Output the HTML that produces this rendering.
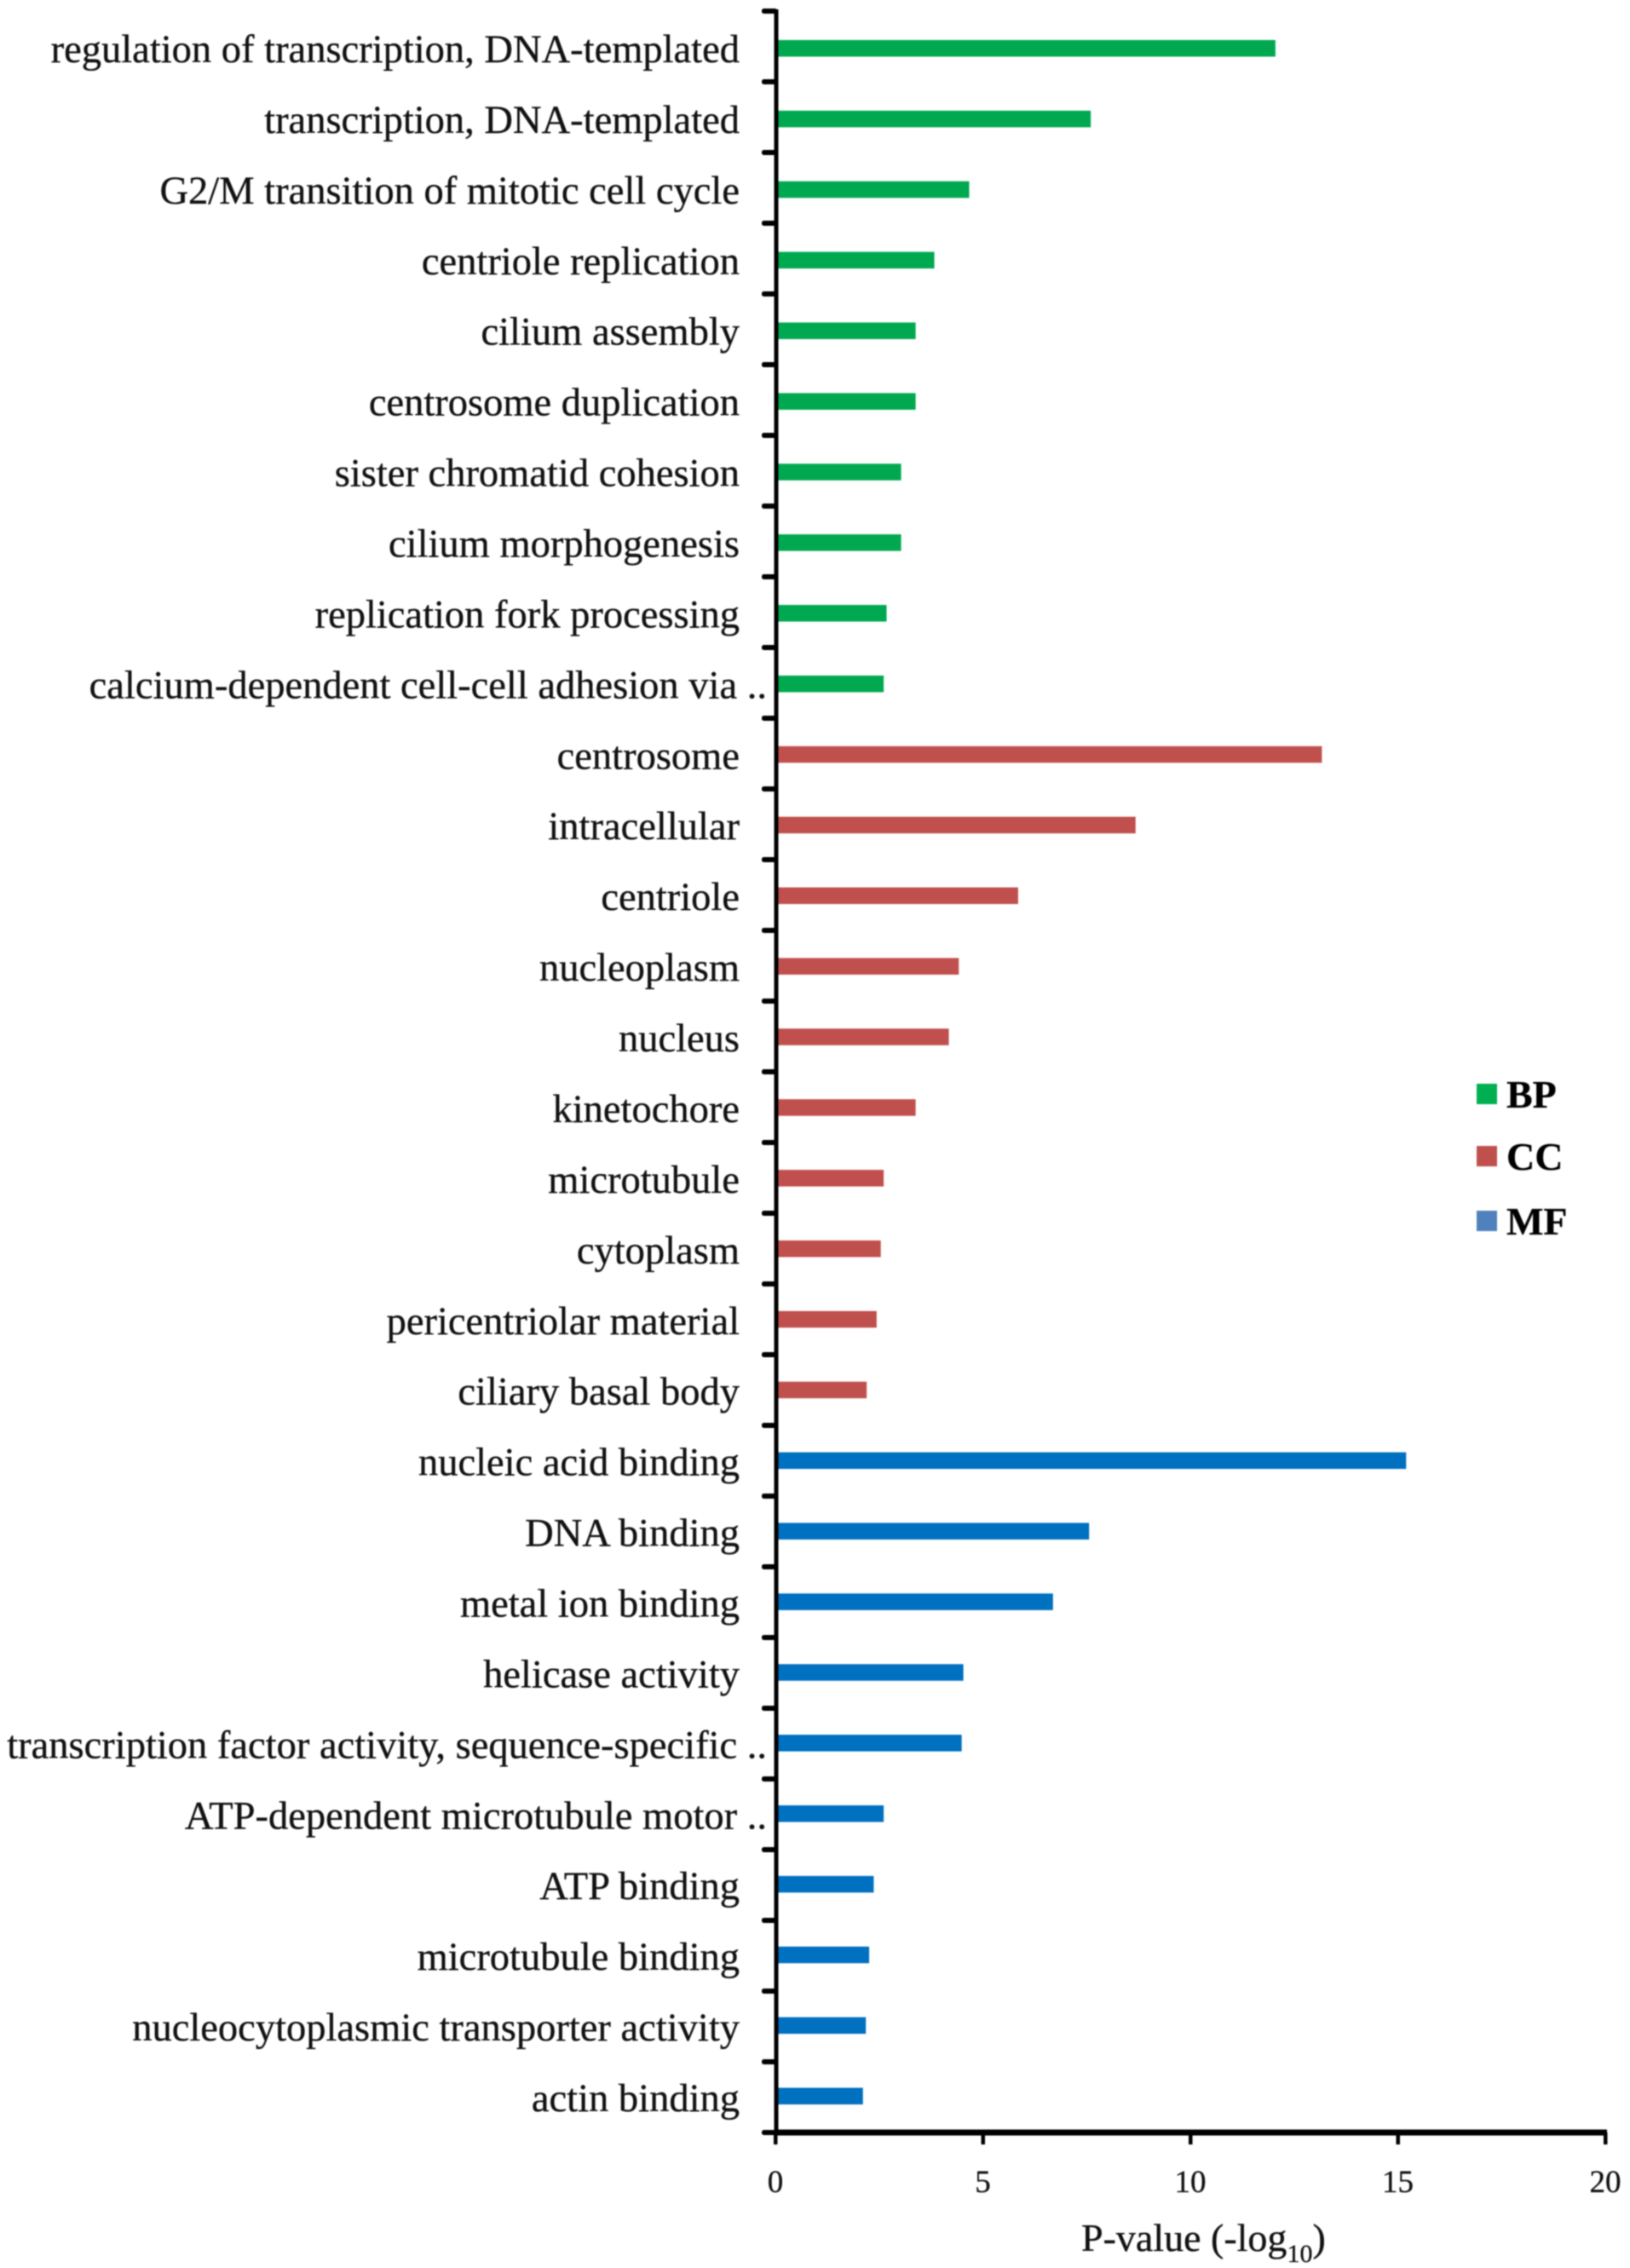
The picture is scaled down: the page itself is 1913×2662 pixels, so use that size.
<!DOCTYPE html>
<html lang="en">
<head>
<meta charset="utf-8">
<title>GO enrichment bar chart</title>
<style>
  html, body { margin: 0; padding: 0; background: #fff; }
  svg { display: block; font-family: "Liberation Serif", serif; filter: blur(0.7px); }
  text { stroke: #111; stroke-width: 0.35px; }
</style>
</head>
<body>
<svg id="chart" xmlns="http://www.w3.org/2000/svg" width="1913" height="2662" viewBox="0 0 1913 2662"></svg>
<script>
const bpTerms = ["regulation of transcription, DNA-templated","transcription, DNA-templated","G2/M transition of mitotic cell cycle","centriole replication","cilium assembly","centrosome duplication","sister chromatid cohesion","cilium morphogenesis","replication fork processing","calcium-dependent cell-cell adhesion via .."];
const bpValues = [12.05,7.6,4.67,3.83,3.38,3.38,3.03,3.03,2.68,2.61];
const ccTerms = ["centrosome","intracellular","centriole","nucleoplasm","nucleus","kinetochore","microtubule","cytoplasm","pericentriolar material","ciliary basal body"];
const ccValues = [13.17,8.68,5.85,4.42,4.18,3.38,2.61,2.54,2.44,2.2];
const mfTerms = ["nucleic acid binding","DNA binding","metal ion binding","helicase activity","transcription factor activity, sequence-specific ..","ATP-dependent microtubule motor ..","ATP binding","microtubule binding","nucleocytoplasmic transporter activity","actin binding"];
const mfValues = [15.2,7.56,6.69,4.53,4.49,2.61,2.37,2.26,2.18,2.11];
const xTickValues = [0,5,10,15,20];
const legendNames = ["BP","CC","MF"];

const svg = document.getElementById('chart');
const NS = 'http://www.w3.org/2000/svg';
const plot = { x0: 910, x1: 1884, top: 13, bottom: 2503, rows: 30, max: 20, firstBar: 56.5, lastBar: 2460 };
const xScale = v => plot.x0 + (v / plot.max) * (plot.x1 - plot.x0);
const yBand = i => plot.top + (plot.bottom - plot.top) / plot.rows * i;
const yCenter = i => plot.firstBar + (plot.lastBar - plot.firstBar) / (plot.rows - 1) * i;

function make(tag, attrs, text) {
  const el = document.createElementNS(NS, tag);
  for (const k in attrs) el.setAttribute(k, attrs[k]);
  if (text !== undefined) el.textContent = text;
  svg.appendChild(el);
  return el;
}

const groups = [
  { terms: bpTerms, values: bpValues, color: '#00a950', key: 'bp' },
  { terms: ccTerms, values: ccValues, color: '#c0504d', key: 'cc' },
  { terms: mfTerms, values: mfValues, color: '#0070c0', key: 'mf' }
];

let row = 0;
groups.forEach(g => {
  g.terms.forEach((term, i) => {
    const cy = yCenter(row);
    const bar = make('rect', { x: plot.x0, y: cy - 9.5, width: xScale(g.values[i]) - plot.x0, height: 19.5, fill: g.color });
    
    
    const truncated = term.endsWith('..');
    const label = make('text', { x: truncated ? 900 : 868, y: cy + 16.5 + row / (plot.rows - 1) * 1.5, 'text-anchor': 'end', 'font-size': 46.5, fill: '#111' }, term);
    
    
    row++;
  });
});

for (let i = 0; i <= plot.rows; i++) {
  const tick = make('rect', { x: 894, y: yBand(i) - 3, width: 18, height: 6, rx: 2.5, fill: '#000' });
  
  
}

const yAxis = make('rect', { x: plot.x0 - 1.5, y: plot.top - 2, width: 5, height: plot.bottom - plot.top + 5, fill: '#000' });



const xAxis = make('rect', { x: plot.x0 - 1, y: plot.bottom - 3.5, width: plot.x1 - plot.x0 + 3, height: 7, fill: '#000' });



xTickValues.forEach(v => {
  const tick = make('rect', { x: xScale(v) - 2, y: plot.bottom, width: 4.5, height: 14, fill: '#000' });
  
  
  const label = make('text', { x: xScale(v), y: 2573, 'text-anchor': 'middle', 'font-size': 37, fill: '#111' }, String(v));
  
  
});

const xTitle = make('text', { x: 1269, y: 2642, 'font-size': 46, fill: '#111' });


const t1 = document.createElementNS(NS, 'tspan');
t1.textContent = 'P-value (-log';
xTitle.appendChild(t1);
const t2 = document.createElementNS(NS, 'tspan');
t2.setAttribute('font-size', '30');
t2.setAttribute('dy', '13');
t2.textContent = '10';
xTitle.appendChild(t2);
const t3 = document.createElementNS(NS, 'tspan');
t3.setAttribute('dy', '-13');
t3.textContent = ')';
xTitle.appendChild(t3);

const legendColors = ['#00b050', '#c0504d', '#4f81bd'];
const legendSwatchY = [1272, 1345, 1421];
legendNames.forEach((name, i) => {
  const sw = make('rect', { x: 1733, y: legendSwatchY[i], width: 24, height: 24, fill: legendColors[i] });
  
  
  const tx = make('text', { x: 1768, y: legendSwatchY[i] + 28, 'font-size': 46, 'font-weight': 'bold', fill: '#000' }, name);
  
  
});
</script>
</body>
</html>
